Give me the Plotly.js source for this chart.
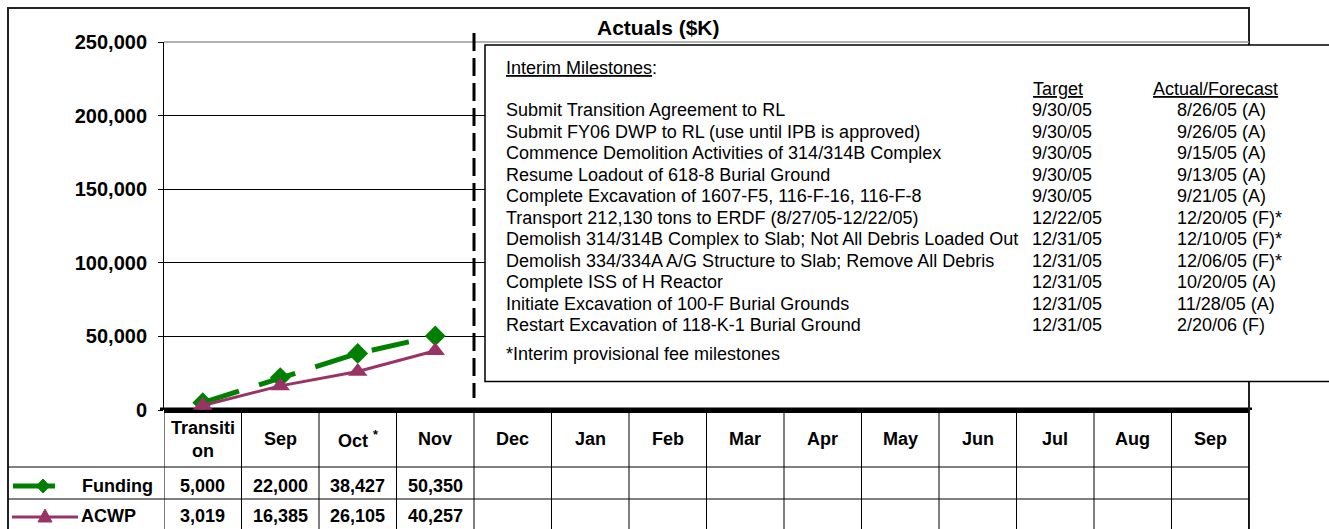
<!DOCTYPE html>
<html>
<head>
<meta charset="utf-8">
<script src="https://cdn.plot.ly/plotly-3.0.1.min.js"></script>
<style>html,body{margin:0;padding:0;background:#fff;}#chart{width:1329px;height:529px;}</style>
</head>
<body>
<div id="chart"></div>
<script>
// ---------- data ----------
const headerLabels = ['Transiti<br>on', 'Sep', 'Oct <sup>*</sup>', 'Nov', 'Dec', 'Jan', 'Feb', 'Mar', 'Apr', 'May', 'Jun', 'Jul', 'Aug', 'Sep'];
const funding = [5000, 22000, 38427, 50350];
const acwp = [3019, 16385, 26105, 40257];
const yTicks = [0, 50000, 100000, 150000, 200000, 250000];

const milestoneNames = [
  'Submit Transition Agreement to RL',
  'Submit FY06 DWP to RL (use until IPB is approved)',
  'Commence Demolition Activities of 314/314B Complex',
  'Resume Loadout of 618-8 Burial Ground',
  'Complete Excavation of 1607-F5, 116-F-16, 116-F-8',
  'Transport 212,130 tons to ERDF (8/27/05-12/22/05)',
  'Demolish 314/314B Complex to Slab; Not All Debris Loaded Out',
  'Demolish 334/334A A/G Structure to Slab; Remove All Debris',
  'Complete ISS of H Reactor',
  'Initiate Excavation of 100-F Burial Grounds',
  'Restart Excavation of 118-K-1 Burial Ground'
];
const milestoneTargets = ['9/30/05', '9/30/05', '9/30/05', '9/30/05', '9/30/05', '12/22/05', '12/31/05', '12/31/05', '12/31/05', '12/31/05', '12/31/05'];
const milestoneActuals = ['8/26/05 (A)', '9/26/05 (A)', '9/15/05 (A)', '9/13/05 (A)', '9/21/05 (A)', '12/20/05 (F)*', '12/10/05 (F)*', '12/06/05 (F)*', '10/20/05 (A)', '11/28/05 (A)', '2/20/06 (F)'];

// ---------- geometry helpers ----------
const L = 164, R = 1249, T = 42, B = 410;
const px = x => (x - L) / (R - L);
const py = y => (B - y) / (B - T);
const FONT = 'Arial, "Liberation Sans", sans-serif';
const GREEN = '#008000', PLUM = '#993366';
const fmt = v => v.toLocaleString('en-US');

const traces = [
  {
    x: funding.map((_, i) => i), y: funding, type: 'scatter', mode: 'lines+markers', name: 'Funding',
    line: {color: GREEN, width: 5, dash: '38px,21px'},
    marker: {symbol: 'diamond', size: 16, color: GREEN},
    hoverinfo: 'skip'
  },
  {
    x: acwp.map((_, i) => i), y: acwp, type: 'scatter', mode: 'lines+markers', name: 'ACWP',
    line: {color: PLUM, width: 3},
    marker: {symbol: 'triangle-up', size: 17, color: PLUM},
    hoverinfo: 'skip'
  }
];

const shapes = [];
// outer frame
shapes.push({type: 'rect', xref: 'paper', yref: 'paper', x0: px(8), x1: px(1249), y0: py(8), y1: py(533),
  line: {color: '#222', width: 2}});
// top plot border (grey)
shapes.push({type: 'line', xref: 'paper', yref: 'paper', x0: 0, x1: 1, y0: 1, y1: 1, line: {color: '#999', width: 1.5}});
// table horizontal lines
[467, 499].forEach(y => shapes.push({type: 'line', xref: 'paper', yref: 'paper', x0: px(8), x1: px(1249), y0: py(y), y1: py(y),
  line: {color: '#000', width: 1}}));
// table vertical lines
for (let k = 0; k <= headerLabels.length; k++) {
  shapes.push({type: 'line', xref: 'x', yref: 'paper', x0: k - 0.5, x1: k - 0.5, y0: 0, y1: py(533), line: {color: '#000', width: 1}});
}
// thick zero line extension (slightly past both ends, as in the reference)
shapes.push({type: 'line', xref: 'paper', yref: 'y', x0: px(160), x1: px(1252), y0: 0, y1: 0, line: {color: '#000', width: 5}, layer: 'below'});
// dashed divider between actuals and future
shapes.push({type: 'line', xref: 'x', yref: 'paper', x0: funding.length - 0.5, x1: funding.length - 0.5, y0: py(33), y1: py(398),
  line: {color: '#000', width: 3, dash: '18px,7px'}});
// milestone box
shapes.push({type: 'rect', xref: 'paper', yref: 'paper', x0: px(485), x1: px(1345), y0: py(45), y1: py(381.5),
  fillcolor: '#fff', line: {color: '#000', width: 1.5}});
// legend samples in table
shapes.push({type: 'line', xref: 'paper', yref: 'paper', x0: px(13), x1: px(55), y0: py(486), y1: py(486), line: {color: GREEN, width: 5}});
shapes.push({type: 'path', xref: 'paper', yref: 'paper',
  path: `M${px(43)},${py(479)} L${px(49.5)},${py(486)} L${px(43)},${py(493)} L${px(36.5)},${py(486)} Z`,
  fillcolor: GREEN, line: {color: GREEN, width: 1}});
shapes.push({type: 'line', xref: 'paper', yref: 'paper', x0: px(12), x1: px(78), y0: py(517), y1: py(517), line: {color: PLUM, width: 3}});
shapes.push({type: 'path', xref: 'paper', yref: 'paper',
  path: `M${px(45)},${py(509)} L${px(52)},${py(522)} L${px(38)},${py(522)} Z`,
  fillcolor: PLUM, line: {color: PLUM, width: 1}});

const ann = [];
const A = (o) => ann.push(Object.assign({showarrow: false, xref: 'paper', yref: 'paper', yanchor: 'middle'}, o));
// title
A({text: '<b>Actuals ($K)</b>', x: px(658), y: py(28), xanchor: 'center', font: {family: FONT, size: 21, color: '#000'}});
// table header
headerLabels.forEach((t, i) => A({text: '<b>' + t + '</b>', xref: 'x', x: i, y: py(439), xanchor: 'center',
  font: {family: FONT, size: 18, color: '#000'}}));
// row labels
A({text: '<b>Funding</b>', x: px(80), y: py(486), xanchor: 'left', font: {family: FONT, size: 18, color: '#000'}});
A({text: '<b>ACWP</b>', x: px(79), y: py(516), xanchor: 'left', font: {family: FONT, size: 18, color: '#000'}});
// values
funding.forEach((v, i) => A({text: '<b>' + fmt(v) + '</b>', xref: 'x', x: i, y: py(486), xanchor: 'center',
  font: {family: FONT, size: 18, color: '#000'}}));
acwp.forEach((v, i) => A({text: '<b>' + fmt(v) + '</b>', xref: 'x', x: i, y: py(516), xanchor: 'center',
  font: {family: FONT, size: 18, color: '#000'}}));
// milestone box text
const MF = {family: FONT, size: 18, color: '#000'};
A({text: '<u>Interim Milestones</u>:', x: px(504), y: py(68), xanchor: 'left', font: MF});
A({text: '<u>Target</u>', x: px(1031), y: py(89), xanchor: 'left', font: MF});
A({text: '<u>Actual/Forecast</u>', x: px(1151), y: py(89), xanchor: 'left', font: MF});
milestoneNames.forEach((t, i) => {
  const y = 110 + 21.5 * i;
  A({text: t, x: px(504), y: py(y), xanchor: 'left', font: MF});
  A({text: milestoneTargets[i], x: px(1030), y: py(y), xanchor: 'left', font: MF});
  A({text: milestoneActuals[i], x: px(1175), y: py(y), xanchor: 'left', font: MF});
});
A({text: '*Interim provisional fee milestones', x: px(504), y: py(354), xanchor: 'left', font: MF});

const layout = {
  width: 1329, height: 529, autosize: false,
  margin: {l: L, r: 1329 - R, t: T, b: 529 - B, pad: 0},
  paper_bgcolor: '#fff', plot_bgcolor: '#fff',
  showlegend: false,
  xaxis: {range: [-0.5, headerLabels.length - 0.5], visible: false, fixedrange: true},
  yaxis: {
    range: [0, 250000], tickvals: yTicks, ticktext: yTicks.map(v => '<b>' + fmt(v) + '</b>'),
    ticks: 'outside', ticklen: 5, tickcolor: '#000', tickwidth: 1,
    ticklabelstandoff: 7,
    showgrid: true, gridcolor: '#000', gridwidth: 1,
    showline: true, linecolor: '#000', linewidth: 1,
    zeroline: true, zerolinecolor: '#000', zerolinewidth: 5,
    tickfont: {family: FONT, size: 20, color: '#000'}, fixedrange: true
  },
  shapes: shapes,
  annotations: ann
};

Plotly.newPlot('chart', traces, layout, {displayModeBar: false, staticPlot: true});
</script>
</body>
</html>
